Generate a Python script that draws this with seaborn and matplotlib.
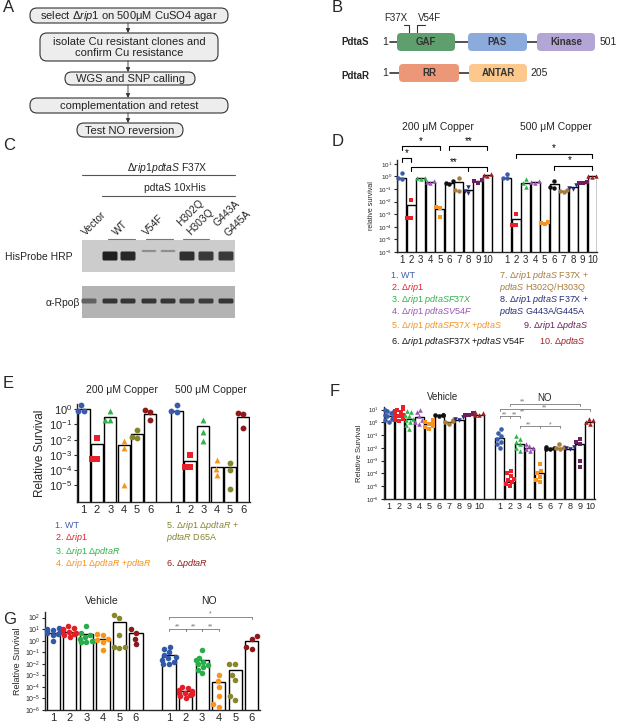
import warnings
import numpy as np
import pandas as pd
import matplotlib
matplotlib.use('Agg')
import matplotlib.pyplot as plt
import matplotlib.transforms as mtransforms
from matplotlib.patches import FancyBboxPatch, Rectangle
from matplotlib.ticker import NullLocator
import seaborn as sns

warnings.filterwarnings('ignore')

# ---------------- data ----------------
# panel C: relative band intensity per lane
blot_lanes = ['Vector', 'WT', 'WT', 'V54F', 'V54F', 'H302Q/H303Q', 'H302Q/H303Q', 'G443A/G445A']
his_band = [0.0, 1.0, 0.95, 0.35, 0.35, 0.9, 0.85, 0.85]
rpob_band = [0.55, 0.85, 0.85, 0.85, 0.85, 0.8, 0.8, 0.85]

# panel D: 10 strains, 200 and 500 uM copper
d_colors = ['#3b5bab', '#e8202a', '#2db34a', '#9a55b3', '#f7931e',
            '#111111', '#a87c3c', '#2a2c78', '#6b1f5e', '#a31f24']
d_markers = ['o', 's', '^', '^', 's', 'o', 'o', 'v', 's', '^']
d_bar_200 = [0.8, 5e-3, 0.7, 0.35, 2.5e-3, 0.3, 0.35, 0.08, 0.4, 1.2]
d_pts_200 = [[1.8, 0.7, 0.6], [1.3e-2, 5e-4, 5e-4], [0.8, 0.7, 0.6], [0.45, 0.35, 0.3],
             [4e-3, 3e-3, 6e-4], [0.45, 0.3, 0.25], [0.7, 0.08, 0.07], [0.15, 0.07, 0.05],
             [0.5, 0.4, 0.3], [1.5, 1.2, 1.0]]
d_bar_500 = [0.8, 4e-4, 0.3, 0.35, 2e-4, 0.25, 0.07, 0.15, 0.3, 1.0]
d_pts_500 = [[1.6, 0.8, 0.7], [1e-3, 1.5e-4, 1.3e-4], [0.6, 0.3, 0.15], [0.4, 0.3, 0.35],
             [2.5e-4, 2e-4, 1.8e-4], [0.4, 0.15, 0.12], [0.08, 0.07, 0.06], [0.2, 0.12, 0.1],
             [0.35, 0.3, 0.28], [1.1, 1.0, 0.9]]

# panel E: 6 strains, 200 and 500 uM copper
e_colors = ['#3b5bab', '#e8202a', '#2db34a', '#f7931e', '#84862e', '#8e1b1b']
e_markers = ['o', 's', '^', '^', 'o', 'o']
e_bar_200 = [1.0, 5e-3, 0.3, 4.5e-3, 2.5e-2, 0.5]
e_pts_200 = [[1.8, 0.8, 0.8], [1.3e-2, 5e-4, 5e-4], [0.8, 0.2, 0.2],
             [8e-3, 3e-3, 1e-5], [4e-2, 1.5e-2, 1.3e-2], [0.9, 0.7, 0.2]]
e_bar_500 = [0.8, 4e-4, 8e-2, 1.7e-4, 1.5e-4, 0.3]
e_pts_500 = [[1.8, 0.8, 0.7], [1e-3, 1.5e-4, 1.5e-4], [0.2, 3e-2, 8e-3],
             [4.5e-4, 1.2e-4, 5e-5], [3e-4, 1e-4, 6e-6], [0.55, 0.5, 0.06]]

# panel F: 10 strains, vehicle and NO
f_bar_veh = [3, 4, 2, 2.5, 0.8, 3.5, 1.0, 1.5, 4, 4]
f_pts_veh = [[10, 8, 6, 5, 4, 3, 2.5, 2, 1.5, 1],
             [15, 12, 10, 8, 6, 5, 4, 3, 2.5, 2, 1.5, 1.2],
             [8, 6, 4, 3, 2, 1.5, 1, 0.6, 0.3],
             [10, 6, 3, 1.5, 1, 0.8],
             [1.5, 1.2, 1, 0.8, 0.6, 0.5, 0.4, 0.3],
             [4, 3.8, 3.5, 3.3],
             [1.5, 1.2, 1.0, 0.8],
             [2.5, 2, 1.5],
             [5, 4.5, 4, 3.5],
             [6, 5, 4, 3.5]]
f_bar_no = [0.06, 2e-5, 0.02, 0.01, 1e-4, 0.008, 0.01, 0.008, 0.02, 1.0]
f_pts_no = [[0.3, 0.15, 0.08, 0.05, 0.03, 0.02, 0.01],
            [1.5e-4, 1e-4, 6e-5, 4e-5, 3e-5, 2e-5, 1.5e-5, 1e-5],
            [0.08, 0.05, 0.03, 0.02, 0.01, 0.006],
            [0.02, 0.015, 0.01, 0.008, 0.006],
            [6e-4, 1.5e-4, 1e-4, 5e-5, 3e-5, 2e-5],
            [0.012, 0.01, 0.009, 0.008],
            [0.02, 0.012, 0.01, 0.009],
            [0.011, 0.01, 0.009],
            [0.05, 0.03, 0.02, 1e-3, 3e-4],
            [2, 1.5, 1.0, 0.8]]

# panel G: 6 strains, vehicle and NO
g_colors = ['#3259a8', '#e31e26', '#27ae4a', '#f7941d', '#86862d', '#8b1a1a']
g_markers = ['o'] * 6
g_bar_veh = [5, 6, 4, 1.5, 40, 4.5]
g_pts_veh = [[12, 10, 9, 8, 7, 6, 5, 4, 3, 1],
             [20, 12, 10, 8, 6, 5, 4, 3, 2],
             [20, 5, 3, 2, 1.5, 1, 1, 0.8, 0.7],
             [4, 3, 1.5, 1.2, 0.8, 0.15],
             [150, 100, 3, 0.3, 0.3, 0.25],
             [10, 5, 1.5, 0.5]]
g_bar_no = [0.06, 4e-5, 0.02, 2.5e-4, 3e-3, 1.0]
g_pts_no = [[0.3, 0.2, 0.1, 0.06, 0.04, 0.03, 0.02, 0.015, 0.01, 0.01],
            [1e-4, 8e-5, 5e-5, 4e-5, 3e-5, 3e-5, 2.5e-5, 2e-5, 1.5e-5, 1e-5],
            [0.15, 0.03, 0.02, 0.015, 0.01, 0.008, 0.005, 0.003, 1.5e-3],
            [1e-3, 3e-4, 1e-4, 1.5e-5, 3e-6, 2e-6],
            [0.01, 0.01, 1e-3, 4e-4, 1.5e-5, 8e-6],
            [2.5, 1.5, 0.3, 0.2]]

# ---------------- style ----------------
sns.set_style('ticks')
plt.rcParams['font.family'] = ['Liberation Sans', 'DejaVu Sans']
plt.rcParams['mathtext.fontset'] = 'custom'
plt.rcParams['mathtext.rm'] = 'Liberation Sans'
plt.rcParams['mathtext.it'] = 'Liberation Sans:italic'
plt.rcParams['mathtext.bf'] = 'Liberation Sans:bold'

W, H = 617, 726
fig = plt.figure(figsize=(W / 100, H / 100), dpi=100)

# full-figure overlay in pixel coordinates (y down)
bg = fig.add_axes([0, 0, 1, 1])
bg.set_xlim(0, W)
bg.set_ylim(H, 0)
bg.axis('off')


def px_axes(x0, y0, x1, y1):
    return fig.add_axes([x0 / W, 1 - y1 / H, (x1 - x0) / W, (y1 - y0) / H])


for letter, (lx, ly) in zip('ABCDEFG', [(3, 8), (332, 8), (3, 146), (332, 141),
                                         (3, 383), (330, 392), (3, 619)]):
    bg.text(lx, ly, letter, fontsize=12, ha='left', va='center')

# ---------------- A: flowchart ----------------
flow = [(30, 8, 228, 23, 'select Δ$\\mathit{rip1}$ on 500μM CuSO4 agar'),
        (40, 33, 218, 61, 'isolate Cu resistant clones and\nconfirm Cu resistance'),
        (65, 72, 195, 85, 'WGS and SNP calling'),
        (30, 98, 228, 113, 'complementation and retest'),
        (77, 123, 183, 137, 'Test NO reversion')]
for i, (x0, y0, x1, y1, txt) in enumerate(flow):
    bg.add_patch(FancyBboxPatch((x0, y0), x1 - x0, y1 - y0,
                                boxstyle='round,pad=0,rounding_size=%g' % min(7, (y1 - y0) / 2),
                                fc='#ededed', ec='#333333', lw=0.8))
    bg.text((x0 + x1) / 2, (y0 + y1) / 2 + 0.5, txt, ha='center', va='center',
            fontsize=8, color='#222222', linespacing=1.15)
    if i < len(flow) - 1:
        bg.annotate('', xy=(128, flow[i + 1][1]), xytext=(128, y1),
                    arrowprops=dict(arrowstyle='-|>,head_length=0.25,head_width=0.12',
                                    lw=0.6, color='#333333', shrinkA=0, shrinkB=0))

# ---------------- B: domains ----------------
dom_txt = dict(fontsize=7, fontweight='bold', color='#333333', ha='center', va='center', zorder=4)
bg.text(341, 42, 'PdtaS', fontsize=7, fontweight='bold', va='center')
bg.text(341, 76, 'PdtaR', fontsize=7, fontweight='bold', va='center')
bg.plot([390, 537], [42, 42], color='#333333', lw=1.2, zorder=0.5)
bg.plot([390, 469], [73, 73], color='#333333', lw=1.2, zorder=0.5)
bg.text(388, 42, '1', fontsize=7.5, ha='right', va='center')
bg.text(388, 73, '1', fontsize=7.5, ha='right', va='center')
bg.text(600, 42, '501', fontsize=7.5, ha='left', va='center')
bg.text(530, 73, '205', fontsize=7.5, ha='left', va='center')
for x0, x1, yc, name, col in [(397, 455, 42, 'GAF', '#5e9f6d'), (468, 527, 42, 'PAS', '#8caadc'),
                              (537, 595, 42, 'Kinase', '#b4a5d7'), (399, 459, 73, 'RR', '#ec9878'),
                              (469, 527, 73, 'ANTAR', '#fcc88c')]:
    bg.add_patch(FancyBboxPatch((x0, yc - 9), x1 - x0, 18, boxstyle='round,pad=0,rounding_size=4',
                                fc=col, ec='none', zorder=3))
    bg.text((x0 + x1) / 2, yc, name, **dom_txt)
bg.text(396, 18, 'F37X', fontsize=7, ha='center', va='center')
bg.text(430, 18, 'V54F', fontsize=7, ha='center', va='center')
bg.plot([404, 409, 409], [25, 25, 33], color='#333333', lw=0.8)
bg.plot([417, 417, 425], [33, 25, 25], color='#333333', lw=0.8)

# ---------------- C: western blot ----------------
bg.text(167, 168, 'Δ$\\mathit{rip1pdtaS}$ F37X', fontsize=7.5, ha='center', va='center')
bg.plot([82, 235], [175, 175], color='#555555', lw=0.8)
bg.text(175, 188, 'pdtaS 10xHis', fontsize=7.5, ha='center', va='center')
bg.plot([102, 235], [196, 196], color='#555555', lw=0.8)
for txt, lx, ly in [('Vector', 87, 237), ('WT', 118, 237), ('V54F', 148, 237), ('H302Q', 182, 228),
                    ('H303Q', 192, 237), ('G443A', 219, 228), ('G445A', 230, 238)]:
    bg.text(lx, ly, txt, fontsize=7.5, rotation=45, ha='left', va='bottom', rotation_mode='anchor')
for x0, x1 in [(108, 135), (146, 173), (183, 209)]:
    bg.plot([x0, x1], [238.5, 238.5], color='#777777', lw=0.8)
bg.text(5, 257, 'HisProbe HRP', fontsize=7.5, ha='left', va='center')
bg.text(80, 303, 'α-Rpoβ', fontsize=7.5, ha='right', va='center')
lane_x = [89, 110, 128, 149, 168, 187, 206, 226]
for (y0, y1, bgc, vals, by, bh) in [(240, 272, 0.80, his_band, 256, 9), (286, 318, 0.70, rpob_band, 301, 5)]:
    bg.add_patch(Rectangle((82, y0), 153, y1 - y0, fc=str(bgc), ec='none'))
    for xc, v in zip(lane_x, vals):
        if v <= 0:
            continue
        h = bh if v > 0.5 else 2.2
        yy = by if v > 0.5 else by - 5
        g = bgc * (1 - v) + 0.12 * v
        bg.add_patch(FancyBboxPatch((xc - 7.5, yy - h / 2), 15, h, boxstyle='round,pad=0,rounding_size=1.5',
                                    fc=str(g), ec='none'))


# ---------------- survival bar panels ----------------
def survival_panel(ax, bars_a, bars_b, pts_a, pts_b, colors, markers, width, msize, lw,
                   ylim, yticks, tick_fs, num_fs, ylabel, ylabel_fs):
    n = len(bars_a)
    order = [f'a{i}' for i in range(n)] + ['gap'] + [f'b{i}' for i in range(n)]
    bar_df = pd.DataFrame({'pos': order[:n] + order[n + 1:],
                           'height': list(bars_a) + list(bars_b)})
    rows = []
    for grp, pts in (('a', pts_a), ('b', pts_b)):
        for i, vals in enumerate(pts):
            for v in vals:
                rows.append({'pos': f'{grp}{i}', 'strain': i, 'value': v})
    pt_df = pd.DataFrame(rows)
    ax.set_yscale('log')
    sns.barplot(data=bar_df, x='pos', y='height', order=order, color='white', edgecolor='black',
                linewidth=lw, width=width, errorbar=None, ax=ax, zorder=2)
    for i in range(n):
        sub = pt_df[pt_df['strain'] == i]
        sns.swarmplot(data=sub, x='pos', y='value', order=order, color=colors[i], marker=markers[i],
                      size=msize, ax=ax, zorder=3, clip_on=False)
    ax.set_xticks(range(len(order)))
    ax.set_xticklabels([str(i + 1) for i in range(n)] + [''] + [str(i + 1) for i in range(n)])
    ax.set_xlim(-0.5, len(order) - 0.5)
    ax.set_ylim(*ylim)
    ax.set_yticks([10.0 ** k for k in yticks])
    ax.yaxis.set_minor_locator(NullLocator())
    ax.tick_params(axis='x', length=0, labelsize=num_fs, pad=2)
    ax.tick_params(axis='y', length=2.5, width=0.8, labelsize=tick_fs, pad=1)
    ax.set_xlabel('')
    ax.set_ylabel(ylabel, fontsize=ylabel_fs, labelpad=2)
    ax.set_facecolor('none')
    sns.despine(ax=ax)
    for s in ('left', 'bottom'):
        ax.spines[s].set_linewidth(1.0)
    return mtransforms.blended_transform_factory(ax.transData, bg.transData)


def bracket(ax, trans, xs, y, labels, color='black', lw=0.8, tick=3.5, fs=7):
    ax.plot([min(xs), max(xs)], [y, y], color=color, lw=lw, transform=trans, clip_on=False)
    for x in xs:
        ax.plot([x, x], [y, y + tick], color=color, lw=lw, transform=trans, clip_on=False)
    for tx, ty, s in labels:
        ax.text(tx, ty, s, transform=trans, ha='center', va='center', fontsize=fs, color=color)


# ---- D ----
axD = px_axes(397, 160, 597, 252)
tD = survival_panel(axD, d_bar_200, d_bar_500, d_pts_200, d_pts_500, d_colors, d_markers,
                    0.95, 3.2, 1.0, (1e-6, 20), range(-6, 2), 4.5, 7, 'relative survival', 5)
bg.text(438, 127, '200 μM Copper', fontsize=7.5, ha='center', va='center')
bg.text(556, 127, '500 μM Copper', fontsize=7.5, ha='center', va='center')
bracket(axD, tD, [0, 4], 146, [(2, 141, '*')])
bracket(axD, tD, [5, 9], 146, [(7, 141, '**')])
bracket(axD, tD, [0, 1], 158, [(0.5, 153, '*')])
bracket(axD, tD, [1, 7, 9], 167, [(5.5, 162, '**')])
bracket(axD, tD, [12, 20], 154, [(16, 148, '*')])
bracket(axD, tD, [16, 20], 166, [(17.6, 160, '*')])

d_legend = [(391, 275, '1. WT', 0), (391, 287, '2. Δ$\\mathit{rip1}$', 1),
            (391, 299, '3. Δ$\\mathit{rip1\\ pdtaSF37X}$', 2),
            (391, 312, '4. Δ$\\mathit{rip1\\ pdtaSV54F}$', 3),
            (391, 325, '5. Δ$\\mathit{rip1\\ pdtaSF37X}$ +$\\mathit{pdtaS}$', 4),
            (391, 342, '6. Δ$\\mathit{rip1\\ pdtaS}$F37X +$\\mathit{pdtaS}$ V54F', 5),
            (499, 275, '7. Δ$\\mathit{rip1\\ pdtaS}$ F37X +', 6),
            (499, 287, '$\\mathit{pdtaS}$ H302Q/H303Q', 6),
            (499, 299, '8. Δ$\\mathit{rip1\\ pdtaS}$ F37X +', 7),
            (499, 311, '$\\mathit{pdtaS}$ G443A/G445A', 7),
            (523, 325, '9. Δ$\\mathit{rip1}$ Δ$\\mathit{pdtaS}$', 8),
            (539, 342, '10. Δ$\\mathit{pdtaS}$', 9)]
for x, y, s, ci in d_legend:
    bg.text(x, y, s, fontsize=6.5, color=d_colors[ci], ha='left', va='center')

# ---- E ----
axE = px_axes(77, 404, 250, 502)
survival_panel(axE, e_bar_200, e_bar_500, e_pts_200, e_pts_500, e_colors, e_markers,
               0.9, 4.2, 1.0, (8e-7, 2.2), range(-5, 1), 8, 8, 'Relative Survival', 8.5)
bg.text(122, 390, '200 μM Copper', fontsize=7.5, ha='center', va='center')
bg.text(211, 390, '500 μM Copper', fontsize=7.5, ha='center', va='center')
e_legend = [(55, 526, '1. WT', 0), (55, 537, '2. Δ$\\mathit{rip1}$', 1),
            (55, 552, '3. Δ$\\mathit{rip1}$ Δ$\\mathit{pdtaR}$', 2),
            (55, 564, '4. Δ$\\mathit{rip1}$ Δ$\\mathit{pdtaR}$ +$\\mathit{pdtaR}$', 3),
            (166, 525, '5. Δ$\\mathit{rip1}$ Δ$\\mathit{pdtaR}$ +', 4),
            (166, 538, '$\\mathit{pdtaR}$ D65A', 4),
            (166, 564, '6. Δ$\\mathit{pdtaR}$', 5)]
for x, y, s, ci in e_legend:
    bg.text(x, y, s, fontsize=6.5, color=e_colors[ci], ha='left', va='center')

# ---- F ----
axF = px_axes(384, 407, 595, 499)
tF = survival_panel(axF, f_bar_veh, f_bar_no, f_pts_veh, f_pts_no, d_colors, d_markers,
                    0.9, 3.3, 1.0, (1e-6, 16), range(-6, 2), 4.2, 6.5, 'Relative Survival', 5.5)
bg.text(443, 397, 'Vehicle', fontsize=7, ha='center', va='center')
bg.text(545, 398, 'NO', fontsize=7, ha='center', va='center')
gk = dict(color='#777777', lw=0.6, tick=2, fs=5)
bracket(axF, tF, [12, 19], 404, [(13.3, 402, '**')], **gk)
bracket(axF, tF, [11, 20], 409, [(15.5, 407.5, '**'), (13.3, 412, '**')], **gk)
bracket(axF, tF, [11, 12, 13], 416, [(11.5, 414.5, '**'), (12.5, 414.5, '**')], **gk)
bracket(axF, tF, [13, 15, 17], 426, [(13.9, 424.5, '**'), (16, 424.5, '*')], **gk)

# ---- G ----
axG = px_axes(45, 612, 260, 710)
tG = survival_panel(axG, g_bar_veh, g_bar_no, g_pts_veh, g_pts_no, g_colors, g_markers,
                    0.8, 4.0, 1.0, (1e-6, 300), range(-6, 3), 5, 8, 'Relative Survival', 6.5)
bg.text(102, 601, 'Vehicle', fontsize=7.5, ha='center', va='center')
bg.text(209, 601, 'NO', fontsize=7.5, ha='center', va='center')
bracket(axG, tG, [7, 12], 617, [(9.5, 614, '*')], **gk)
bracket(axG, tG, [7, 8], 629, [(7.5, 626.5, '**')], **gk)
bracket(axG, tG, [8, 9], 629, [(8.5, 626.5, '**')], **gk)
bracket(axG, tG, [9, 10], 629, [(9.5, 626.5, '**')], **gk)

fig.savefig('out.png', dpi=100)
